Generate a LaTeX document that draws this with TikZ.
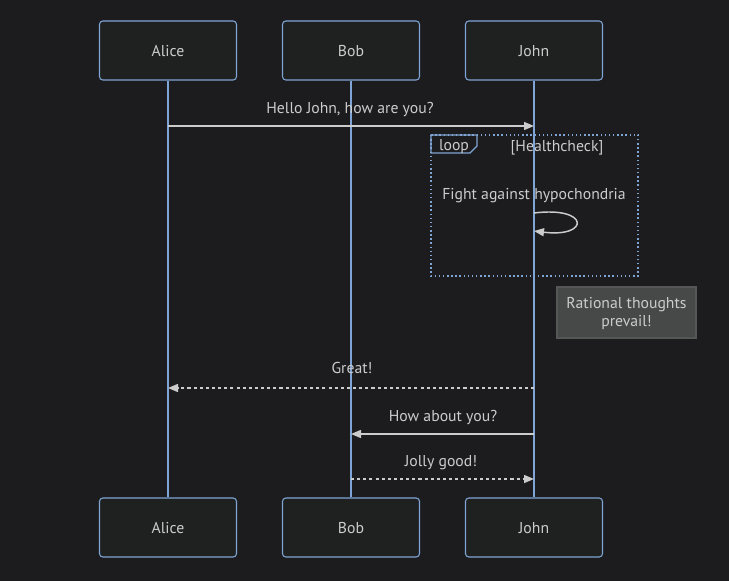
\documentclass[tikz,border=0pt]{standalone}
\usepackage{fontspec}
\setmainfont{PT Sans}
\usetikzlibrary{arrows.meta}
\definecolor{bg}{HTML}{1C1C1E}
\definecolor{boxbg}{HTML}{1F2020}
\definecolor{line}{HTML}{7FA5D6}
\definecolor{text}{HTML}{CCCCCC}
\definecolor{notebg}{HTML}{474949}
\definecolor{noteline}{HTML}{555757}
\tikzset{
  actor/.style={draw=line, fill=boxbg, line width=0.8pt, rounded corners=2.5pt,
    minimum width=102.75pt, minimum height=44.25pt, inner sep=0pt, text height=9pt, text depth=0pt,
    text=text, font=\fontsize{11.8}{14}\selectfont},
  life/.style={draw=line, line width=1.2pt},
  msg/.style={draw=text, line width=1.1pt, -{Triangle[length=7.5pt, width=6pt]}},
  reply/.style={msg, dash pattern=on 2.3pt off 2.3pt},
  lab/.style={text=text, font=\fontsize{11.8}{14}\selectfont, inner sep=0pt},
  loopbox/.style={draw=line, line width=1.1pt, dotted},
  notebox/.style={draw=noteline, fill=notebg, line width=0.8pt, minimum width=104.25pt, minimum height=38.25pt,
    inner sep=0pt, text=text, align=center, font=\fontsize{11.8}{13.5}\selectfont},
}
\begin{document}
\begin{tikzpicture}[x=0.75pt,y=-0.75pt]
\useasboundingbox[fill=bg] (0,0) rectangle (729,581);

% actors
\node[actor] (alice) at (168,50.5) {Alice};
\node[actor] (bob) at (351,50.5) {Bob};
\node[actor] (john) at (534,50.5) {John};
\node[actor] (alice2) at (168,527.5) {Alice};
\node[actor] (bob2) at (351,527.5) {Bob};
\node[actor] (john2) at (534,527.5) {John};

% loop frame
\draw[loopbox] (431,135) rectangle (638,276);
\draw[draw=line, line width=0.8pt] (431,135) -- (477,135) -- (477,146) -- (470,153) -- (431,153) -- cycle;
\node[lab] (looptag) at (454,147) {loop};
\node[lab] (loopcond) at (557,148) {[Healthcheck]};

% lifelines
\draw[life] (alice) -- (alice2);
\draw[life] (bob) -- (bob2);
\draw[life] (john) -- (john2);

% messages
\node[lab] (m1) at (350,110) {Hello John, how are you?};
\draw[msg] (alice |- 0,126) -- (john |- 0,126);

\node[lab] (m2) at (534,195.5) {Fight against hypochondria};
\draw[msg] (john |- 0,213) .. controls (590,206) and (590,238) .. (john |- 0,231);

\node[notebox] (note) at (626.5,312.5) {};
\node[lab, align=center, font=\fontsize{11.8}{13.5}\selectfont] (notetext) at (626.5,314) {Rational thoughts\\prevail!};

\node[lab] (m3) at (352,368) {Great!};
\draw[reply] (john |- 0,388) -- (alice |- 0,388);

\node[lab] (m4) at (443,417.5) {How about you?};
\draw[msg] (john |- 0,434) -- (bob |- 0,434);

\node[lab] (m5) at (441,463) {Jolly good!};
\draw[reply] (bob |- 0,479) -- (john |- 0,479);
\end{tikzpicture}
\end{document}
